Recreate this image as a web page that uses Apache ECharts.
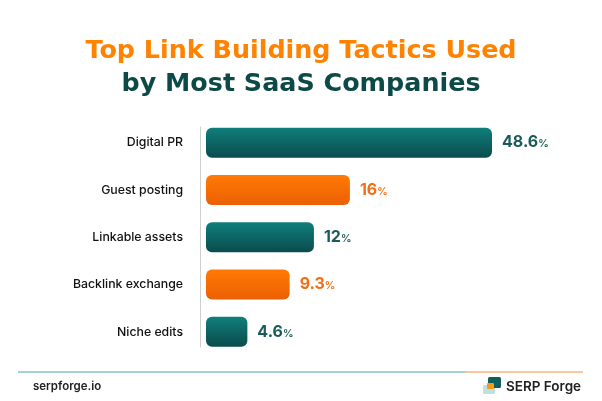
<!DOCTYPE html>
<html>
<head>
<meta charset="utf-8">
<script src="https://cdn.jsdelivr.net/npm/echarts@6/dist/echarts.min.js"></script>
<style>html,body{margin:0;padding:0;background:#fff;}#c{width:602px;height:401px;}</style>
</head>
<body>
<div id="c"></div>
<script>
const categories = ['Digital PR', 'Guest posting', 'Linkable assets', 'Backlink exchange', 'Niche edits'];
const values = [48.6, 16, 12, 9.3, 4.6];
const titleLine1 = 'Top Link Building Tactics Used';
const titleLine2 = 'by Most SaaS Companies';
const footerLeft = 'serpforge.io';
const footerBrand = 'SERP Forge';

const TEAL = '#1b5c5a', ORANGE = '#f46d12';
const tealGrad = new echarts.graphic.LinearGradient(0, 0, 0, 1, [{offset: 0, color: '#0f7f7c'}, {offset: 1, color: '#0b4b4c'}]);
const orangeGrad = new echarts.graphic.LinearGradient(0, 0, 0, 1, [{offset: 0, color: '#ff7a05'}, {offset: 1, color: '#ec5f04'}]);

const chart = echarts.init(document.getElementById('c'), null, {renderer: 'canvas'});
const FONT = 'Inter, "Open Sans", sans-serif';
const TFONT = '"DejaVu Sans", sans-serif';

chart.setOption({
  backgroundColor: '#ffffff',
  animation: false,
  title: [
    {text: titleLine1, left: 'center', top: 34, textStyle: {fontFamily: TFONT, fontSize: 25.4, fontWeight: 'bold', color: '#ff8200'}},
    {text: titleLine2, left: 'center', top: 67, textStyle: {fontFamily: TFONT, fontSize: 25.4, fontWeight: 'bold', color: '#0d4a47'}}
  ],
  grid: [
    {left: 206, top: 119, width: 286, height: 236.5, containLabel: false},
    {left: 200, top: 127, width: 10, height: 220, containLabel: false}
  ],
  xAxis: [
    {type: 'value', min: 0, max: 31.8, show: false, gridIndex: 0},
    {type: 'value', min: 0, max: 1, show: false, gridIndex: 1}
  ],
  yAxis: [
    {
      type: 'category', data: categories, inverse: true, gridIndex: 0,
      axisLine: {show: false},
      axisTick: {show: false},
      axisLabel: {margin: 23, fontFamily: FONT, fontSize: 12.3, fontWeight: 500, color: '#111'}
    },
    {
      type: 'value', min: 0, max: 1, gridIndex: 1,
      axisLine: {show: true, lineStyle: {color: '#cfcfcf', width: 1}},
      axisTick: {show: false}, axisLabel: {show: false}, splitLine: {show: false}
    }
  ],
  series: [{
    type: 'bar', clip: true, barWidth: 30, xAxisIndex: 0, yAxisIndex: 0,
    data: values.map((v, i) => ({value: v, itemStyle: {color: i % 2 === 0 ? tealGrad : orangeGrad},
      label: {color: i % 2 === 0 ? TEAL : ORANGE}})),
    itemStyle: {borderRadius: 6},
    label: {
      show: true, position: 'right', distance: 10,
      formatter: p => '{n|' + p.value + '}{p|%}',
      rich: {
        n: {fontFamily: FONT, fontSize: 16, fontWeight: 700},
        p: {fontFamily: FONT, fontSize: 10.5, fontWeight: 600, padding: [3, 0, 0, 0]}
      }
    }
  }],
  graphic: [
    {type: 'line', shape: {x1: 18, y1: 372, x2: 466, y2: 372}, style: {stroke: '#4aa7a6', lineWidth: 1}},
    {type: 'line', shape: {x1: 466, y1: 372, x2: 583, y2: 372}, style: {stroke: '#f7913d', lineWidth: 1}},
    {type: 'text', left: 33, top: 381, style: {text: footerLeft, font: '600 11.5px ' + FONT, fill: '#222'}},
    {type: 'rect', shape: {x: 483, y: 385, width: 12, height: 9, r: 1.5}, style: {fill: '#bfe0dd'}},
    {type: 'rect', shape: {x: 488, y: 377, width: 13, height: 11, r: 1.5}, style: {fill: '#0f5f5c'}},
    {type: 'rect', shape: {x: 487, y: 383, width: 7, height: 6, r: 1}, style: {fill: '#f59a1b'}},
    {type: 'text', left: 506, top: 380, style: {text: footerBrand, font: '600 13.5px ' + FONT, fill: '#222'}}
  ]
});
</script>
</body>
</html>
